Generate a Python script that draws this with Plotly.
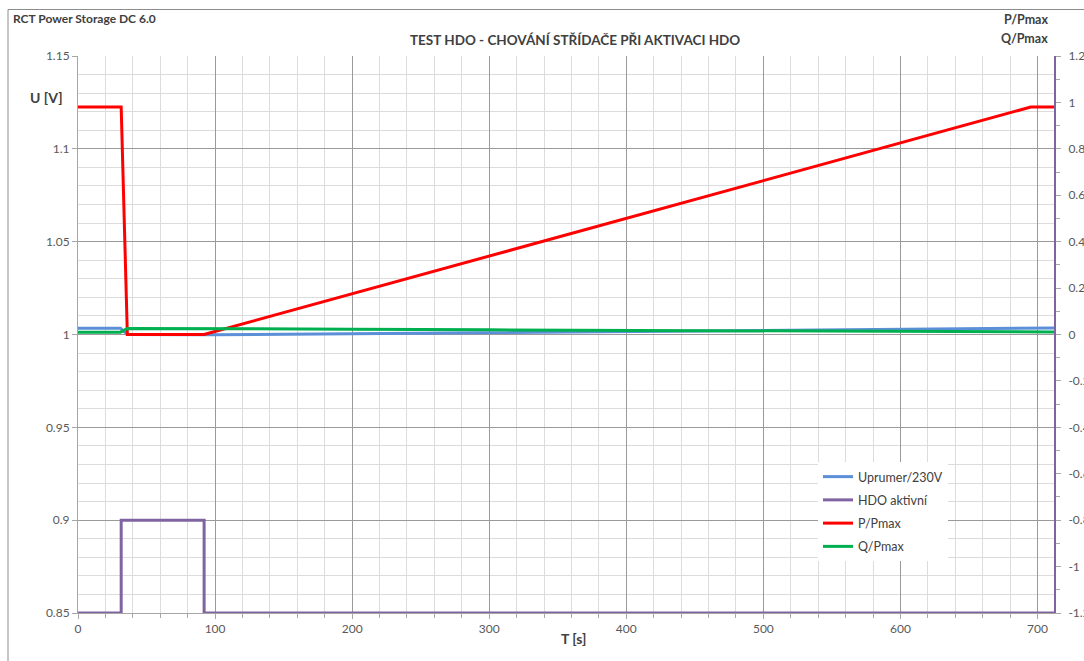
import plotly.graph_objects as go

# ---- data ----
t_u = [0, 31, 36, 100, 200, 300, 400, 500, 600, 712]
u_ratio = [1.0034, 1.0034, 1.0000, 0.9999, 1.0004, 1.0010, 1.0015, 1.0021, 1.0028, 1.0035]

t_hdo = [0, 31.5, 31.5, 92, 92, 712]
hdo = [0.85, 0.85, 0.90, 0.90, 0.85, 0.85]

t_p = [0, 31.5, 36, 92, 695, 712]
p_ratio = [0.98, 0.98, 0.0, 0.0, 0.98, 0.98]

t_q = [0, 31, 36, 100, 200, 300, 400, 500, 600, 712]
q_ratio = [0.010, 0.010, 0.026, 0.026, 0.023, 0.020, 0.018, 0.016, 0.013, 0.011]

x_ticks = [0, 100, 200, 300, 400, 500, 600, 700]
y_left_ticks = [0.85, 0.9, 0.95, 1.0, 1.05, 1.1, 1.15]
y_left_labels = ["0.85", "0.9", "0.95", "1", "1.05", "1.1", "1.15"]
y_right_ticks = [-1.2, -1.0, -0.8, -0.6, -0.4, -0.2, 0, 0.2, 0.4, 0.6, 0.8, 1.0, 1.2]
y_right_labels = ["-1.2", "-1", "-0.8", "-0.6", "-0.4", "-0.2", "0", "0.2", "0.4", "0.6", "0.8", "1", "1.2"]

FONT = "Lato"
W, H = 1084, 661
ML, MR, MT, MB = 78, 30, 56, 48
PW = W - ML - MR
PH = H - MT - MB


def px(x):
    return (x - ML) / PW


def py(y):
    return (H - MB - y) / PH


fig = go.Figure()
fig.add_trace(go.Scatter(x=t_u, y=u_ratio, mode="lines", name="Uprumer/230V",
                         line=dict(color="#5b8fd8", width=3), legendgroup="a",
                         cliponaxis=False))
fig.add_trace(go.Scatter(x=t_hdo, y=hdo, mode="lines", name="HDO aktivní",
                         line=dict(color="#8064a2", width=3), legendgroup="b",
                         cliponaxis=False))
fig.add_trace(go.Scatter(x=t_p, y=p_ratio, mode="lines", name="P/Pmax", yaxis="y2",
                         line=dict(color="#ff0000", width=3), legendgroup="c"))
fig.add_trace(go.Scatter(x=t_q, y=q_ratio, mode="lines", name="Q/Pmax", yaxis="y2",
                         line=dict(color="#00b050", width=3), legendgroup="d"))

fig.update_layout(
    width=W, height=H,
    margin=dict(l=ML, r=MR, t=MT, b=MB, autoexpand=False),
    paper_bgcolor="white", plot_bgcolor="white",
    font=dict(family=FONT, size=12, color="#595959"),
    showlegend=True,
    legend=dict(x=px(818), y=py(462), xanchor="left", yanchor="top",
                bgcolor="white", borderwidth=0, tracegroupgap=4,
                traceorder="grouped",
                font=dict(family=FONT, size=12.5, color="#404040")),
    xaxis=dict(range=[0, 712], tickvals=x_ticks, showgrid=True,
               gridcolor="#9a9a9a", gridwidth=1,
               showline=True, linecolor="#a6a6a6", linewidth=1,
               ticks="outside", ticklen=5, tickcolor="#a6a6a6",
               zeroline=False, tickfont=dict(size=12, color="#595959"),
               minor=dict(dtick=20, showgrid=True, gridcolor="#dcdcdc",
                          ticks="outside", ticklen=4, tickcolor="#a6a6a6")),
    yaxis=dict(range=[0.85, 1.15], tickvals=y_left_ticks, ticktext=y_left_labels,
               showgrid=True, gridcolor="#9a9a9a", gridwidth=1,
               showline=True, linecolor="#a6a6a6", linewidth=1,
               ticks="outside", ticklen=5, tickcolor="#a6a6a6",
               zeroline=False, tickfont=dict(size=12, color="#595959"),
               minor=dict(dtick=0.01, tick0=0.85, showgrid=True, gridcolor="#dcdcdc")),
    yaxis2=dict(range=[-1.2, 1.2], tickvals=y_right_ticks, ticktext=y_right_labels,
                overlaying="y", side="right", showgrid=False, zeroline=False,
                showline=True, linecolor="#8064a2", linewidth=2,
                ticks="outside", ticklen=5, tickcolor="#a6a6a6",
                ticklabelstandoff=5,
                tickfont=dict(size=12, color="#595959"),
                minor=dict(dtick=0.1, tick0=-1.2, ticks="outside", ticklen=4,
                           tickcolor="#a6a6a6", showgrid=False)),
)

anns = [
    dict(text="<b>RCT Power Storage DC 6.0</b>", x=px(11), y=py(19), xanchor="left",
         font=dict(size=12, color="#404040")),
    dict(text="<b>TEST HDO - CHOVÁNÍ STŘÍDAČE PŘI AKTIVACI HDO</b>", x=px(575), y=py(40),
         xanchor="center", font=dict(size=13.5, color="#404040")),
    dict(text="<b>P/Pmax</b>", x=px(1050), y=py(20), xanchor="right",
         font=dict(size=12.5, color="#404040")),
    dict(text="<b>Q/Pmax</b>", x=px(1050), y=py(38), xanchor="right",
         font=dict(size=12.5, color="#404040")),
    dict(text="<b>U [V]</b>", x=px(46), y=py(97), xanchor="center",
         font=dict(size=14, color="#404040")),
    dict(text="<b>T [s]</b>", x=px(573), y=py(638), xanchor="center",
         font=dict(size=14, color="#404040")),
]
for a in anns:
    a.update(xref="paper", yref="paper", yanchor="middle", showarrow=False)
    fig.add_annotation(**a)

fig.add_shape(type="rect", xref="paper", yref="paper",
              x0=px(8), x1=px(1100), y0=py(680), y1=py(9.5),
              line=dict(color="#8c8c8c", width=1), fillcolor="rgba(0,0,0,0)",
              layer="below")

fig.write_html("out.html")
